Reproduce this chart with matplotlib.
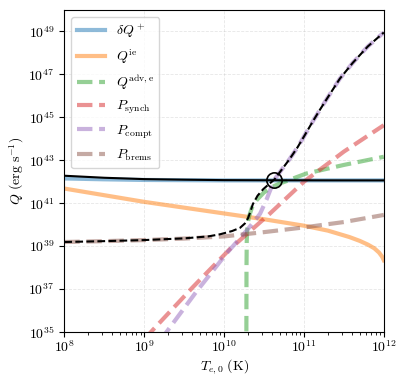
import numpy as np
import matplotlib
matplotlib.use("Agg")
import matplotlib.pyplot as plt

# =================
# DANE (log10 wartości)
# =================
logT_heat = [8.0, 8.5, 9.0, 9.5, 10.0, 10.5, 11.0, 11.3, 11.57, 11.7, 11.8, 11.88, 11.94, 11.98, 12.0]
log_dQ = [42.15, 42.11, 42.08, 42.07, 42.06, 42.06, 42.06, 42.06, 42.06, 42.06, 42.06, 42.06,
          42.06, 42.06, 42.06]
log_Qie = [41.68, 41.37, 41.06, 40.79, 40.52, 40.25, 39.95, 39.72, 39.42, 39.24, 39.07, 38.9,
           38.7, 38.5, 38.34]

logT_adv = [10.279, 10.281, 10.284, 10.29, 10.31, 10.35, 10.41, 10.5, 10.6, 10.7, 10.8,
            10.9, 11.03, 11.5, 12.0]
log_Qadv = [34.0, 38.0, 39.2, 39.8, 40.35, 40.8, 41.15, 41.5, 41.75, 41.92, 42.05,
            42.2, 42.38, 42.78, 43.16]

logT_synch = [9.0, 9.11, 9.61, 10.07, 10.57, 11.0, 11.5, 12.0]
log_Psynch = [34.65, 35.1, 37.09, 38.85, 40.5, 42.0, 43.4, 44.63]

logT_compt = [9.2, 9.3, 9.65, 10.03, 10.3, 10.45, 10.53, 10.63, 10.72, 10.82, 10.92,
              11.0, 11.11, 11.2, 11.32, 11.45, 11.61, 11.8, 12.0]
log_Pcompt = [34.6, 35.1, 36.86, 38.65, 39.8, 40.5, 41.15, 42.1, 42.55, 43.05, 43.6,
              44.1, 44.8, 45.35, 46.05, 46.8, 47.53, 48.3, 48.95]

logT_brems = [8.0, 8.5, 9.0, 9.5, 10.0, 10.5, 11.0, 11.5, 12.0]
log_Pbrems = [39.19, 39.23, 39.28, 39.35, 39.45, 39.65, 39.87, 40.12, 40.45]

logT_cool = [8.0, 8.5, 9.0, 9.5, 9.8, 9.95, 10.1, 10.2, 10.26, 10.3, 10.33, 10.36, 10.42,
             10.49, 10.56, 10.63, 10.72, 10.82, 10.92, 11.0, 11.11, 11.2, 11.32,
             11.45, 11.61, 11.8, 12.0]
log_cool = [39.19, 39.23, 39.28, 39.36, 39.45, 39.55, 39.7, 39.85, 40.05, 40.3, 40.6, 40.95,
            41.35, 41.65, 41.88, 42.1, 42.55, 43.05, 43.6, 44.1, 44.8, 45.35, 46.05,
            46.8, 47.53, 48.3, 48.95]

# punkt równowagi
logT_eq = 10.63
logQ_eq = 42.1

# =================
# STYL
# =================
plt.rcParams["mathtext.fontset"] = "cm"
plt.rcParams["font.family"] = "serif"
plt.rcParams["font.serif"] = ["cmr10", "DejaVu Serif"]
plt.rcParams["axes.formatter.use_mathtext"] = True
plt.rcParams["axes.unicode_minus"] = False


def p(a):
    return 10.0 ** np.array(a)


fig = plt.figure(figsize=(4.07, 3.82), dpi=100)
ax = fig.add_axes([0.158, 0.131, 0.785, 0.843])

T_heat = p(logT_heat)
ax.plot(T_heat, p(log_dQ), color="tab:blue", lw=3, alpha=0.5, label=r"$\delta Q^+$")
ax.plot(T_heat, p(log_Qie), color="tab:orange", lw=3, alpha=0.5, label=r"$Q^{\rm ie}$")
ax.plot(p(logT_adv), p(log_Qadv), color="tab:green", lw=3, alpha=0.5, ls="--",
        label=r"$Q^{\rm adv,e}$")
ax.plot(p(logT_synch), p(log_Psynch), color="tab:red", lw=3, alpha=0.5, ls="--",
        label=r"$P_{\rm synch}$")
ax.plot(p(logT_compt), p(log_Pcompt), color="tab:purple", lw=3, alpha=0.5, ls="--",
        label=r"$P_{\rm compt}$")
ax.plot(p(logT_brems), p(log_Pbrems), color="tab:brown", lw=3, alpha=0.5, ls="--",
        label=r"$P_{\rm brems}$")

# suma ogrzewania i chłodzenia
ax.plot(T_heat, p(log_dQ) + p(log_Qie), color="black", lw=1.5)
ax.plot(p(logT_cool), p(log_cool), color="black", lw=1.5, ls="--")
ax.plot([10 ** logT_eq], [10 ** logQ_eq], "o", mfc="none", mec="black", ms=11, mew=1.2)

ax.set_xscale("log")
ax.set_yscale("log")
ax.set_xlim(1e8, 1e12)
ax.set_ylim(1e35, 1e50)
ax.tick_params(axis="x", which="major", pad=1.5)
ax.set_xlabel(r"$T_{e,0}\ (\mathrm{K})$", labelpad=2)
ax.set_ylabel(r"$Q\ (\mathrm{erg\ s^{-1}})$", labelpad=2)
ax.grid(True, linestyle="--", lw=0.6, alpha=0.3)
ax.legend(loc="upper left")

fig.savefig("out.png", dpi=100)
